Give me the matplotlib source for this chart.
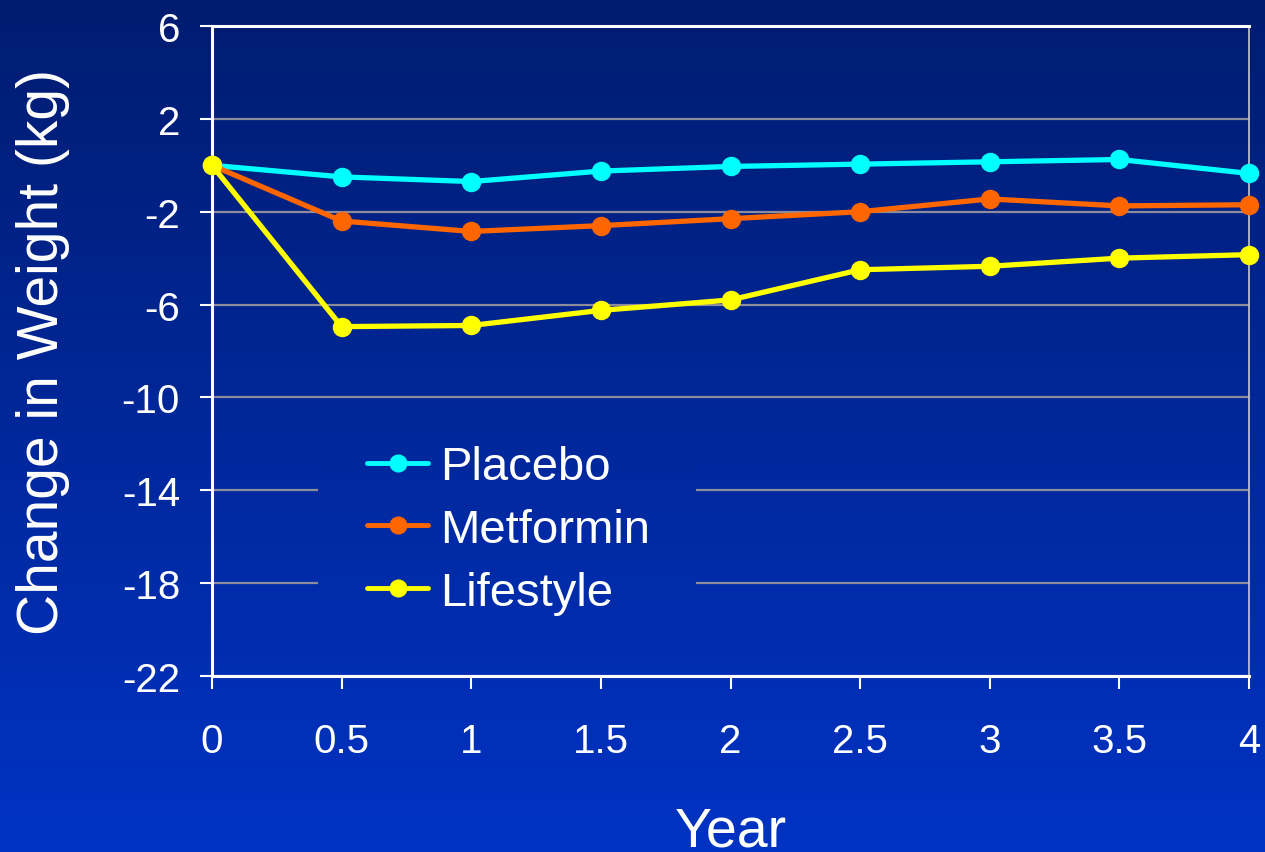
import numpy as np
import matplotlib
matplotlib.use("Agg")
import matplotlib.pyplot as plt
from matplotlib.colors import LinearSegmentedColormap

plt.rcParams['font.family'] = ['Liberation Sans', 'DejaVu Sans']
plt.rcParams['axes.unicode_minus'] = False

years = [0, 0.5, 1, 1.5, 2, 2.5, 3, 3.5, 4]
placebo = [0.0, -0.5, -0.7, -0.25, -0.05, 0.05, 0.15, 0.25, -0.35]
metformin = [0.0, -2.4, -2.85, -2.6, -2.3, -2.0, -1.45, -1.75, -1.7]
lifestyle = [0.0, -6.95, -6.9, -6.25, -5.8, -4.5, -4.35, -4.0, -3.85]

series_names = ["Placebo", "Metformin", "Lifestyle"]
series_colors = ["#00FFFF", "#FF6600", "#FFFF00"]
y_ticks = [6, 2, -2, -6, -10, -14, -18, -22]
x_ticks = [0, 0.5, 1, 1.5, 2, 2.5, 3, 3.5, 4]
x_tick_labels = ["0", "0.5", "1", "1.5", "2", "2.5", "3", "3.5", "4"]

top_col = np.array([0, 28, 112]) / 255
bot_col = np.array([0, 51, 196]) / 255
grad_cmap = LinearSegmentedColormap.from_list("bg", [top_col, bot_col])

W, H = 1265, 853
fig = plt.figure(figsize=(W / 100, H / 100), dpi=100)

# vertical gradient backdrop over the whole figure
bg = fig.add_axes([0, 0, 1, 1], zorder=-10)
bg.imshow(np.linspace(0, 1, 256).reshape(-1, 1), aspect='auto', cmap=grad_cmap,
          extent=[0, 1, 0, 1], origin='upper', vmin=0, vmax=1)
bg.set_xlim(0, 1)
bg.set_ylim(0, 1)
bg.set_axis_off()

ax = fig.add_axes([212 / W, 1 - 677 / H, (1249 - 212) / W, 650 / H])
ax.set_facecolor('none')

for vals, name, col in zip([placebo, metformin, lifestyle], series_names, series_colors):
    ax.plot(years, vals, color=col, lw=3.8, marker='o', ms=13, label=name,
            clip_on=False, zorder=3, solid_capstyle='round')

ax.set_yticks(y_ticks)
ax.set_xticks(x_ticks)
ax.set_xticklabels(x_tick_labels)

ax.yaxis.grid(True, color='#8C8C9C', lw=1.6)
ax.set_axisbelow(True)

for s in ['left', 'bottom', 'top']:
    ax.spines[s].set_color('white')
    ax.spines[s].set_linewidth(2.2)
ax.spines['right'].set_color('#C8C8D0')
ax.spines['right'].set_linewidth(1.2)

ax.tick_params(axis='both', colors='white', direction='out', length=9, width=1.5,
               labelsize=29)
ax.tick_params(axis='y', pad=14)
ax.tick_params(axis='x', pad=24)

ax.set_ylabel("Change in Weight (kg)", color='white', fontsize=41, labelpad=37)
ax.set_xlabel("Year", color='white', fontsize=40, labelpad=33)

# legend block: a strip of the backdrop gradient that hides the grid behind the legend
lx0, lx1, ly0, ly1 = 318, 695, 425, 628   # pixel box, top-left origin
ax.imshow(np.linspace(ly0 / H, ly1 / H, 64).reshape(-1, 1), aspect='auto', cmap=grad_cmap,
          vmin=0, vmax=1, extent=[lx0 / W, lx1 / W, 1 - ly1 / H, 1 - ly0 / H],
          transform=fig.transFigure, zorder=1.5, origin='upper', interpolation='bilinear')
ax.set_xlim(0, 4)
ax.set_ylim(-22, 6)

leg = ax.legend(loc='center left', bbox_to_anchor=(367 / W, 1 - 531 / H),
                bbox_transform=fig.transFigure,
                fontsize=34, frameon=False, handlelength=1.3, handletextpad=0.25,
                labelspacing=0.40, borderpad=0.0, borderaxespad=0)
for t in leg.get_texts():
    t.set_color('white')
for h in leg.legend_handles:
    h.set_markersize(12)
    h.set_linewidth(3.5)

fig.savefig("out.png", dpi=100)
